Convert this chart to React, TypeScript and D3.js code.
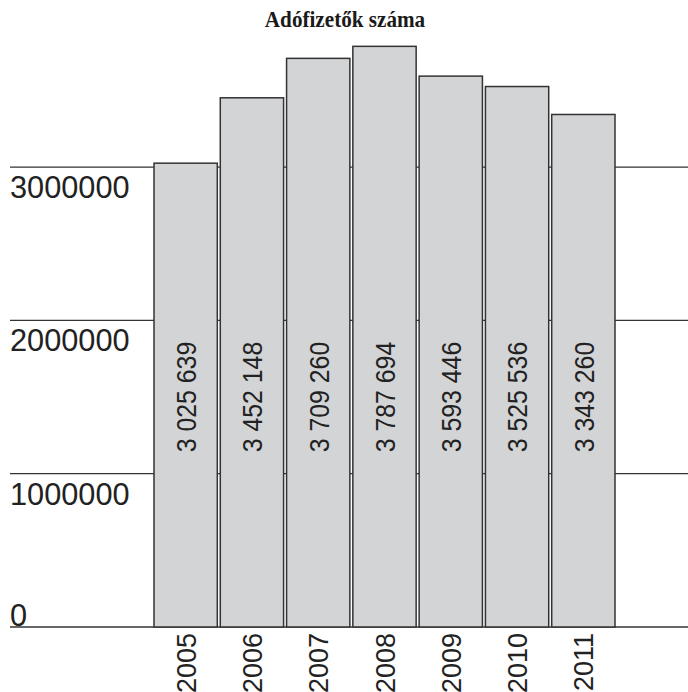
import React from "react";
import * as d3 from "d3";

const title = "Adófizetők száma";
const years = ["2005", "2006", "2007", "2008", "2009", "2010", "2011"];
const taxpayers = [3025639, 3452148, 3709260, 3787694, 3593446, 3525536, 3343260];
const yTicks = [0, 1000000, 2000000, 3000000];

const W = 688;
const H = 692;

const fmt = (v: number) => d3.format(",")(v).replace(/,/g, " ");

export default function App() {
  const x = d3.scaleBand<string>().domain(years).range([154, 615]).paddingInner(0.045).paddingOuter(0);
  const y = d3.scaleLinear().domain([0, 1000000]).range([627, 473.7]);
  const font = "'Liberation Sans', Arial, Helvetica, sans-serif";
  return (
    <svg width={W} height={H} style={{ position: "absolute", left: 0, top: 0, background: "#fff" }}>
      <text
        transform="translate(345,27) scale(0.94,1)"
        textAnchor="middle"
        fontFamily="'Liberation Serif', 'Times New Roman', serif"
        fontWeight="bold"
        fontSize={22.5}
        fill="#1a1a1a"
      >
        {title}
      </text>
      {yTicks.map((t) => (
        <g key={t}>
          <line x1={10} x2={W} y1={y(t)} y2={y(t)} stroke="#333" strokeWidth={1.3} />
          <text
            transform={`translate(10,${t === 0 ? y(t) - 1 : y(t) + 31}) scale(0.96,1)`}
            fontFamily={font}
            fontSize={32}
            fill="#222"
          >
            {t}
          </text>
        </g>
      ))}
      {years.map((yr, i) => {
        const v = taxpayers[i];
        const bx = x(yr)!;
        const bw = x.bandwidth();
        const cx = bx + bw / 2;
        return (
          <g key={yr}>
            <rect x={bx} y={y(v)} width={bw} height={y(0) - y(v)} fill="#d3d4d6" stroke="#333" strokeWidth={1.5} />
            <text
              transform={`translate(${cx + 1},397) rotate(-90) scale(0.92,1)`}
              textAnchor="middle"
              dominantBaseline="central"
              fontFamily={font}
              fontSize={27}
              fill="#222"
            >
              {fmt(v)}
            </text>
            <text
              transform={`translate(${cx + 1},633) rotate(-90)`}
              textAnchor="end"
              dominantBaseline="central"
              fontFamily={font}
              fontSize={27}
              fill="#222"
            >
              {yr}
            </text>
          </g>
        );
      })}
    </svg>
  );
}
